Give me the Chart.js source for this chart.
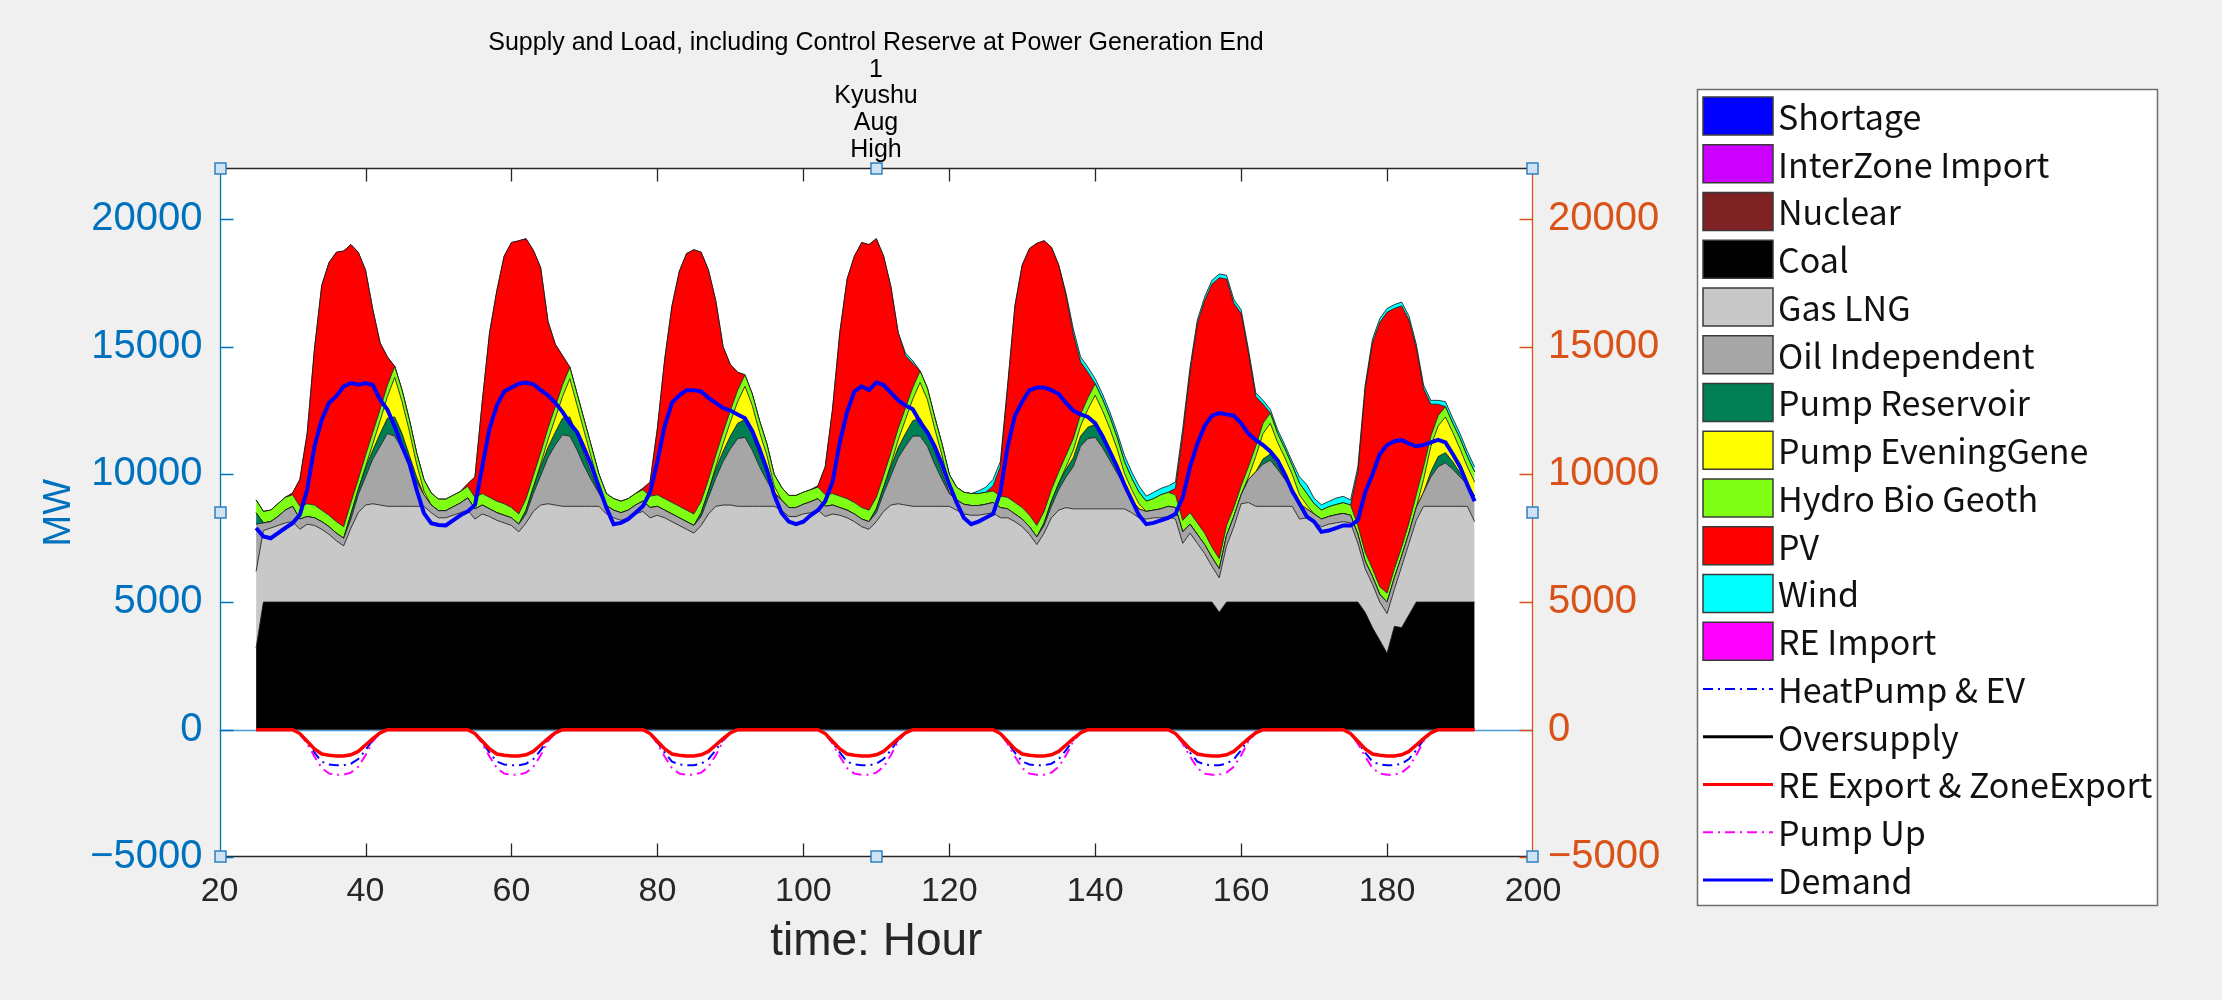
<!DOCTYPE html>
<html>
<head>
<meta charset="utf-8">
<title>Supply and Load - Kyushu Aug High</title>
<script src="https://cdn.jsdelivr.net/npm/chart.js@4.4.1/dist/chart.umd.min.js"></script>
<style>
  html, body { margin: 0; padding: 0; background: #f0f0f0; }
  #wrap { width: 2222px; height: 1000px; }
</style>
</head>
<body>
<div id="wrap"><canvas id="chart" width="2222" height="1000"></canvas></div>
<script>
// ── DATA (MW, hourly, hour 25 … 192) ─────────────────────
const hours = Array.from({length: 168}, (_, i) => 25 + i);

const titleLines = ['Supply and Load, including Control Reserve at Power Generation End', '1', 'Kyushu', 'Aug', 'High'];
const xTicks = [20, 40, 60, 80, 100, 120, 140, 160, 180, 200];
const yTicks = [-5000, 0, 5000, 10000, 15000, 20000];

// series with no output in this run
const shortage = [];
const interZoneImport = [];
const nuclear = [];
const reImport = [];
const oversupply = [];

const coal = [
  3200,5000,5000,5000,5000,5000,5000,5000,5000,5000,5000,5000,5000,5000,5000,5000,5000,5000,5000,5000,5000,5000,5000,5000,
  5000,5000,5000,5000,5000,5000,5000,5000,5000,5000,5000,5000,5000,5000,5000,5000,5000,5000,5000,5000,5000,5000,5000,5000,
  5000,5000,5000,5000,5000,5000,5000,5000,5000,5000,5000,5000,5000,5000,5000,5000,5000,5000,5000,5000,5000,5000,5000,5000,
  5000,5000,5000,5000,5000,5000,5000,5000,5000,5000,5000,5000,5000,5000,5000,5000,5000,5000,5000,5000,5000,5000,5000,5000,
  5000,5000,5000,5000,5000,5000,5000,5000,5000,5000,5000,5000,5000,5000,5000,5000,5000,5000,5000,5000,5000,5000,5000,5000,
  5000,5000,5000,5000,5000,5000,5000,5000,5000,5000,5000,5000,4600,5000,5000,5000,5000,5000,5000,5000,5000,5000,5000,5000,
  5000,5000,5000,5000,5000,5000,5000,5000,4600,4000,3500,3000,4050,4000,4500,5000,5000,5000,5000,5000,5000,5000,5000,5000
];
const gasLng = [
  3000,2800,2900,3000,3100,3150,2850,3050,3000,2850,2650,2400,2200,2900,3500,3800,3850,3800,3750,3750,3750,3750,3750,3750,
  3500,3300,3300,3400,3500,3600,3250,3450,3350,3200,3100,3000,2750,3100,3550,3800,3850,3800,3750,3750,3750,3750,3750,3750,
  3450,3300,3200,3300,3450,3550,3300,3400,3300,3150,3000,2850,2700,3000,3450,3750,3800,3800,3750,3750,3750,3750,3750,3750,
  3600,3350,3350,3450,3500,3600,3350,3450,3400,3300,3150,2950,2850,3150,3550,3800,3850,3800,3750,3750,3750,3750,3750,3750,
  3600,3450,3400,3400,3450,3500,3300,3300,3150,2950,2650,2250,2700,3300,3600,3700,3650,3650,3650,3650,3650,3650,3650,3650,
  3500,3300,3250,3300,3300,3350,3250,2300,2700,2300,1900,1400,1350,2200,2950,3850,3900,3750,3750,3750,3750,3750,3750,3250,
  3300,3150,2950,3050,3100,3150,3100,2300,1700,1700,1500,1550,1450,2400,2800,3200,3750,3750,3750,3750,3750,3750,3750,3150
];
const oilIndependent = [
  1850,300,250,350,500,600,400,300,300,300,300,300,300,350,700,1100,1750,2300,2850,2750,2250,1550,950,450,
  300,280,280,330,380,480,400,350,300,300,300,300,300,350,700,1150,1800,2350,2800,2750,2200,1550,1000,500,
  330,300,300,300,350,400,400,350,300,300,300,300,300,350,650,1100,1700,2200,2650,2700,2200,1550,1000,500,
  400,350,350,380,430,450,400,350,300,300,300,300,300,350,700,1150,1800,2300,2750,2750,2350,1650,1050,500,
  400,380,380,380,380,400,400,350,300,300,300,300,300,450,800,1200,1650,2450,2750,2800,2400,1900,1400,900,
  500,350,300,300,350,400,450,450,350,350,350,350,350,400,400,350,900,1350,1650,1800,1450,1050,650,600,
  350,300,300,300,320,320,300,350,300,300,300,450,450,400,400,500,550,1150,1550,1700,1450,1150,850,1000
];
const pumpReservoir = [
  450,0,0,0,0,0,0,0,0,0,0,0,0,200,200,350,350,500,600,750,600,450,200,0,
  0,0,0,0,0,0,0,0,0,0,0,0,0,150,250,350,400,500,650,750,600,450,250,50,
  0,0,0,0,0,0,0,0,0,0,0,0,0,150,250,350,400,500,600,700,600,450,300,50,
  0,0,0,0,0,0,0,0,0,0,0,0,0,150,250,350,400,500,600,700,600,500,300,50,
  0,0,0,0,0,0,0,0,0,0,0,0,100,200,250,300,350,400,450,500,450,400,300,150,
  0,0,0,0,0,0,0,0,0,0,0,0,0,0,0,0,0,0,200,250,150,50,0,0,
  0,0,0,0,0,0,0,0,0,0,0,0,0,0,0,0,0,200,400,400,300,150,50,0
];
const pumpEveningGene = [
  0,0,0,0,0,0,0,0,0,0,0,0,0,0,0,50,250,500,850,1550,1250,950,500,150,
  0,0,0,0,0,0,0,0,0,0,0,0,0,0,0,100,300,550,850,1500,1150,900,600,250,
  0,0,0,0,0,0,0,0,0,0,0,0,0,0,0,100,300,550,850,1300,1150,900,700,250,
  0,0,0,0,0,0,0,0,0,0,0,0,0,0,0,100,300,550,850,1400,1230,900,650,250,
  0,0,0,0,0,0,0,0,0,0,0,0,0,0,0,100,300,400,700,1150,1000,850,650,350,
  400,200,0,0,0,0,0,0,0,0,0,0,0,0,0,0,100,600,1000,1200,900,800,600,350,
  150,0,0,0,0,0,0,0,0,0,0,0,0,0,0,0,500,1000,1200,1400,1150,950,650,550
];
const hydroBioGeoth = [
  500,450,450,500,500,450,500,500,500,450,450,450,450,450,400,450,450,450,450,430,450,450,450,450,
  470,450,450,450,450,450,450,450,450,450,450,400,400,450,450,450,450,450,450,450,450,450,450,450,
  470,450,450,450,450,450,450,450,450,450,450,450,450,450,450,450,450,450,450,450,450,450,450,450,
  500,475,475,470,470,450,450,450,450,450,450,450,450,450,450,450,450,450,450,450,450,450,450,450,
  500,470,470,470,470,450,450,450,450,450,450,450,450,450,450,450,450,450,450,450,450,450,450,450,
  450,450,400,450,550,550,500,450,450,450,450,400,400,400,350,350,400,400,400,400,350,350,350,450,
  450,400,350,380,400,420,400,350,350,300,300,350,350,350,400,500,500,400,400,400,350,400,400,400
];
const pv = [
  0,0,0,0,0,70,1050,2750,6100,8800,9900,10550,10800,10100,8900,7250,4800,2600,1100,0,0,0,0,0,
  0,0,0,0,0,100,800,3600,6450,8250,9700,10380,10700,10180,8830,7250,4200,2450,1150,0,0,0,0,0,
  0,0,0,0,0,50,550,2600,5450,7700,9200,10050,10350,9750,8200,6050,3350,1800,700,0,0,0,0,0,
  0,0,0,0,0,50,1100,3300,6400,8600,9650,10380,10400,10130,8600,6500,3750,2050,950,0,0,0,0,0,
  0,0,0,0,0,200,1150,4300,7700,9500,10450,11050,10600,9500,8100,6250,4100,2050,1000,0,0,0,0,0,
  0,0,0,0,0,0,250,3350,5500,7800,9100,10300,11000,9650,8000,6750,4450,1950,750,0,0,0,0,0,
  0,0,0,0,0,0,0,2100,6400,8850,10350,11000,10200,9450,7950,5750,3050,1250,450,0,0,0,0,0
];
const wind = [
  0,0,0,0,0,0,0,0,0,0,0,0,0,0,0,0,0,0,0,0,0,0,0,0,
  0,0,0,0,0,0,0,0,0,0,0,0,0,0,0,0,0,0,0,0,0,0,0,0,
  0,0,0,0,0,0,0,0,0,0,0,0,0,0,0,0,0,0,0,0,0,0,0,0,
  0,0,0,0,0,0,0,0,0,0,0,0,0,0,0,0,0,100,100,0,0,0,0,0,
  0,0,0,100,200,250,200,100,0,0,0,0,0,0,0,100,200,200,200,200,200,200,200,250,
  250,250,200,250,250,250,250,250,200,150,150,150,150,150,150,150,150,150,150,150,150,150,150,250,
  350,220,210,210,250,250,200,200,150,150,150,150,150,150,150,150,150,150,150,200,200,200,200,200
];

// loads drawn below zero
const heatPumpEv = [
  0,0,0,0,0,0,-150,-500,-900,-1250,-1360,-1390,-1390,-1330,-1150,-800,-400,-120,0,0,0,0,0,0,
  0,0,0,0,0,0,-150,-500,-900,-1250,-1360,-1390,-1390,-1330,-1150,-800,-400,-120,0,0,0,0,0,0,
  0,0,0,0,0,0,-150,-500,-900,-1250,-1360,-1390,-1390,-1330,-1150,-800,-400,-120,0,0,0,0,0,0,
  0,0,0,0,0,0,-150,-500,-900,-1250,-1360,-1390,-1390,-1330,-1150,-800,-400,-120,0,0,0,0,0,0,
  0,0,0,0,0,0,-150,-500,-900,-1250,-1360,-1390,-1390,-1330,-1150,-800,-400,-120,0,0,0,0,0,0,
  0,0,0,0,0,0,-150,-500,-900,-1250,-1360,-1390,-1390,-1330,-1150,-800,-400,-120,0,0,0,0,0,0,
  0,0,0,0,0,0,-150,-500,-900,-1250,-1360,-1390,-1390,-1330,-1150,-800,-400,-120,0,0,0,0,0,0
];
const reExport = [
  0,0,0,0,0,0,-150,-450,-750,-950,-1000,-1030,-1030,-980,-850,-600,-350,-120,0,0,0,0,0,0,
  0,0,0,0,0,0,-150,-450,-750,-950,-1000,-1030,-1030,-980,-850,-600,-350,-120,0,0,0,0,0,0,
  0,0,0,0,0,0,-150,-450,-750,-950,-1000,-1030,-1030,-980,-850,-600,-350,-120,0,0,0,0,0,0,
  0,0,0,0,0,0,-150,-450,-750,-950,-1000,-1030,-1030,-980,-850,-600,-350,-120,0,0,0,0,0,0,
  0,0,0,0,0,0,-150,-450,-750,-950,-1000,-1030,-1030,-980,-850,-600,-350,-120,0,0,0,0,0,0,
  0,0,0,0,0,0,-150,-450,-750,-950,-1000,-1030,-1030,-980,-850,-600,-350,-120,0,0,0,0,0,0,
  0,0,0,0,0,0,-150,-450,-750,-950,-1000,-1030,-1030,-980,-850,-600,-350,-120,0,0,0,0,0,0
];
const pumpUp = [
  0,0,0,0,0,0,-150,-550,-1050,-1500,-1720,-1760,-1760,-1680,-1450,-1000,-450,-120,0,0,0,0,0,0,
  0,0,0,0,0,0,-150,-550,-1050,-1500,-1720,-1760,-1760,-1680,-1450,-1000,-450,-120,0,0,0,0,0,0,
  0,0,0,0,0,0,-150,-550,-1050,-1500,-1720,-1760,-1760,-1680,-1450,-1000,-450,-120,0,0,0,0,0,0,
  0,0,0,0,0,0,-150,-550,-1050,-1500,-1720,-1760,-1760,-1680,-1450,-1000,-450,-120,0,0,0,0,0,0,
  0,0,0,0,0,0,-150,-550,-1050,-1500,-1720,-1760,-1760,-1680,-1450,-1000,-450,-120,0,0,0,0,0,0,
  0,0,0,0,0,0,-150,-550,-1050,-1500,-1720,-1760,-1760,-1680,-1450,-1000,-450,-120,0,0,0,0,0,0,
  0,0,0,0,0,0,-150,-550,-1050,-1500,-1720,-1760,-1760,-1680,-1450,-1000,-450,-120,0,0,0,0,0,0
];
const demand = [
  7900,7570,7500,7700,7900,8090,8420,9400,11100,12140,12800,13060,13450,13580,13510,13580,13500,12925,12530,11880,11100,10440,9400,8480,
  8090,8020,8000,8200,8400,8550,8800,10300,11800,12700,13250,13400,13550,13600,13530,13300,13100,12800,12450,12000,11650,11000,10300,9500,
  8700,8050,8100,8250,8500,8750,9300,10500,11900,12800,13100,13300,13300,13250,13000,12800,12600,12500,12350,12200,11700,11000,10200,9200,
  8500,8150,8050,8150,8400,8600,8950,9700,11250,12450,13250,13450,13300,13600,13500,13200,12900,12700,12550,12050,11650,11100,10400,9600,
  8900,8300,8050,8150,8300,8450,9300,11100,12300,12850,13300,13400,13400,13300,13150,12800,12500,12350,12250,12000,11500,10900,10300,9600,
  9000,8400,8050,8100,8200,8300,8450,9100,10300,11200,11900,12300,12400,12350,12300,12000,11600,11350,11150,10900,10550,10000,9350,8850,
  8350,8150,7750,7800,7900,8000,8000,8200,9300,10000,10800,11150,11300,11350,11200,11100,11150,11250,11350,11250,10800,10300,9600,8950
];

// ── STYLE ───────────────────────────────────────────────
const FONT = '"Liberation Sans", Arial, sans-serif';
const LEGEND_FONT = '"Noto Sans CJK JP", "Liberation Sans", sans-serif';
const AX_DARK = '#262626';
const AX_LEFT = '#0072bd';
const AX_RIGHT = '#d95319';
const EDGE = 'rgba(25,25,25,0.85)';
const DASHDOT = [10, 5, 2, 5];
const tickText = v => (v < 0 ? '\u2212' + Math.abs(v) : String(v));

// stacked supply, bottom to top
const areaDefs = [
  ['Shortage', shortage, '#0000ff'],
  ['InterZone Import', interZoneImport, '#cc00ff'],
  ['Nuclear', nuclear, '#7e2224'],
  ['Coal', coal, '#000000'],
  ['Gas LNG', gasLng, '#c8c8c8'],
  ['Oil Independent', oilIndependent, '#a6a6a6'],
  ['Pump Reservoir', pumpReservoir, '#007f55'],
  ['Pump EveningGene', pumpEveningGene, '#ffff00'],
  ['Hydro Bio Geoth', hydroBioGeoth, '#7fff14'],
  ['PV', pv, '#ff0000'],
  ['Wind', wind, '#00ffff'],
  ['RE Import', reImport, '#ff00ff'],
];
const areaSets = areaDefs.map(([label, data, color]) => ({
  kind: 'area', label, data,
  backgroundColor: color, borderColor: EDGE, borderWidth: 1,
  fill: label === 'Coal' ? 'origin' : (data.length ? '-1' : false),
  yAxisID: 'y', order: 10, pointRadius: 0, tension: 0
}));

const lineSets = [
  {label: 'HeatPump & EV', data: heatPumpEv, borderColor: '#0000ff', borderWidth: 2, borderDash: DASHDOT, order: 3},
  {label: 'Oversupply', data: oversupply, borderColor: '#000000', borderWidth: 3, order: 4},
  {label: 'RE Export & ZoneExport', data: reExport, borderColor: '#ff0000', borderWidth: 3.5, order: 1},
  {label: 'Pump Up', data: pumpUp, borderColor: '#ff00ff', borderWidth: 2, borderDash: DASHDOT, order: 2},
  {label: 'Demand', data: demand, borderColor: '#0000ff', borderWidth: 4, order: 0},
].map(d => ({...d, kind: 'line', fill: false, yAxisID: 'y2', pointRadius: 0, tension: 0}));

// ── LEGEND BOX ──────────────────────────────────────────
const LEG = {x: 1697, y: 89, w: 460, h: 816, row0: 116, gap: 47.75, sw: 70, sh: 38};

function drawLegend(chart) {
  const ctx = chart.ctx;
  ctx.save();
  ctx.fillStyle = '#ffffff';
  ctx.fillRect(LEG.x, LEG.y, LEG.w, LEG.h);
  ctx.strokeStyle = '#6e6e6e';
  ctx.lineWidth = 1.5;
  ctx.strokeRect(LEG.x + 0.5, LEG.y + 0.5, LEG.w, LEG.h);
  ctx.font = '34px ' + LEGEND_FONT;
  ctx.textBaseline = 'middle';
  ctx.textAlign = 'left';
  chart.data.datasets.forEach((ds, i) => {
    const cy = LEG.row0 + i * LEG.gap;
    const sx = LEG.x + 6;
    if (ds.kind === 'area') {
      ctx.fillStyle = ds.backgroundColor;
      ctx.fillRect(sx, cy - LEG.sh / 2, LEG.sw, LEG.sh);
      ctx.strokeStyle = '#3a3a3a';
      ctx.lineWidth = 1.5;
      ctx.setLineDash([]);
      ctx.strokeRect(sx, cy - LEG.sh / 2, LEG.sw, LEG.sh);
    } else {
      ctx.strokeStyle = ds.borderColor;
      ctx.lineWidth = Math.min(ds.borderWidth, 3);
      ctx.setLineDash(ds.borderDash || []);
      ctx.beginPath();
      ctx.moveTo(sx, cy);
      ctx.lineTo(sx + LEG.sw, cy);
      ctx.stroke();
      ctx.setLineDash([]);
    }
    ctx.fillStyle = '#111111';
    ctx.fillText(ds.label, LEG.x + 81, cy + 1);
  });
  ctx.restore();
}

// ── AXES FRAME, TICKS, HANDLES ──────────────────────────
const frame = {
  id: 'frame',
  beforeDraw(chart) {
    const {ctx, chartArea: a} = chart;
    ctx.save();
    ctx.fillStyle = '#f0f0f0';
    ctx.fillRect(0, 0, chart.width, chart.height);
    ctx.fillStyle = '#ffffff';
    ctx.fillRect(a.left, a.top, a.right - a.left, a.bottom - a.top);
    ctx.restore();
  },
  beforeDatasetsDraw(chart) {
    const {ctx, chartArea: a, scales} = chart;
    const y0 = Math.round(scales.y.getPixelForValue(0)) + 0.5;
    ctx.save();
    ctx.strokeStyle = '#4a9ad6';
    ctx.lineWidth = 1.5;
    ctx.beginPath();
    ctx.moveTo(a.left, y0);
    ctx.lineTo(a.right, y0);
    ctx.stroke();
    ctx.restore();
  },
  afterDraw(chart) {
    const {ctx, chartArea: a, scales} = chart;
    const L = Math.round(a.left) + 0.5, R = Math.round(a.right) - 0.5;
    const T = Math.round(a.top) + 0.5, B = Math.round(a.bottom) - 0.5;
    const tl = 13;
    ctx.save();
    ctx.lineWidth = 1.3;

    ctx.strokeStyle = AX_DARK;
    ctx.beginPath();
    ctx.moveTo(L, T); ctx.lineTo(R, T);
    ctx.moveTo(L, B); ctx.lineTo(R, B);
    scales.x.ticks.forEach(t => {
      const px = Math.round(scales.x.getPixelForValue(t.value)) + 0.5;
      if (px <= L + 1 || px >= R - 1) return;
      ctx.moveTo(px, B); ctx.lineTo(px, B - tl);
      ctx.moveTo(px, T); ctx.lineTo(px, T + tl);
    });
    ctx.stroke();

    ctx.strokeStyle = AX_LEFT;
    ctx.beginPath();
    ctx.moveTo(L, T); ctx.lineTo(L, B);
    scales.y.ticks.forEach(t => {
      const py = Math.round(scales.y.getPixelForValue(t.value)) + 0.5;
      ctx.moveTo(L, py); ctx.lineTo(L + tl, py);
    });
    ctx.stroke();

    ctx.strokeStyle = AX_RIGHT;
    ctx.beginPath();
    ctx.moveTo(R, T); ctx.lineTo(R, B);
    scales.y2.ticks.forEach(t => {
      const py = Math.round(scales.y2.getPixelForValue(t.value)) + 0.5;
      ctx.moveTo(R, py); ctx.lineTo(R - tl, py);
    });
    ctx.stroke();

    // selection handles round the axes
    const mx = (L + R) / 2, my = (T + B) / 2;
    [[L, T], [mx, T], [R, T], [L, my], [R, my], [L, B], [mx, B], [R, B]].forEach(([hx, hy]) => {
      ctx.fillStyle = '#cfe2f4';
      ctx.strokeStyle = '#2f7fc1';
      ctx.lineWidth = 1.5;
      ctx.fillRect(hx - 5.5, hy - 5.5, 11, 11);
      ctx.strokeRect(hx - 5.5, hy - 5.5, 11, 11);
    });
    ctx.restore();

    drawLegend(chart);
  }
};

// ── CHART ───────────────────────────────────────────────
new Chart(document.getElementById('chart'), {
  type: 'line',
  data: {labels: hours, datasets: [...areaSets, ...lineSets]},
  plugins: [frame],
  options: {
    responsive: false,
    animation: false,
    devicePixelRatio: 1,
    layout: {padding: {left: 0, right: 470, top: 0, bottom: 0}},
    elements: {line: {tension: 0}, point: {radius: 0}},
    plugins: {
      legend: {display: false},
      tooltip: {enabled: false},
      title: {
        display: true,
        text: titleLines,
        color: '#000000',
        font: {family: FONT, size: 25, weight: 'normal', lineHeight: 1.064},
        padding: {top: 30, bottom: 5}
      }
    },
    scales: {
      x: {
        type: 'linear', position: 'bottom', min: 20, max: 200,
        afterBuildTicks: s => { s.ticks = xTicks.map(v => ({value: v})); },
        afterFit: s => { s.height = 142.6; },
        grid: {display: false, drawTicks: false},
        border: {display: false},
        ticks: {color: AX_DARK, font: {family: FONT, size: 34}, padding: 14, maxRotation: 0, callback: tickText},
        title: {display: true, text: 'time: Hour', color: AX_DARK,
                font: {family: FONT, size: 46, lineHeight: 1.2}, padding: {top: 0, bottom: 30}}
      },
      y: {
        position: 'left', stacked: true, min: -5000, max: 22000,
        afterBuildTicks: s => { s.ticks = yTicks.map(v => ({value: v})); },
        afterFit: s => { s.width = 219.6; },
        grid: {display: false, drawTicks: false},
        border: {display: false},
        ticks: {color: AX_LEFT, font: {family: FONT, size: 40}, padding: 17, callback: tickText},
        title: {display: true, text: 'MW', color: AX_LEFT,
                font: {family: FONT, size: 38, lineHeight: 1.2}, padding: {top: 37, bottom: 0}}
      },
      y2: {
        position: 'right', stacked: false, min: -5000, max: 22000,
        afterBuildTicks: s => { s.ticks = yTicks.map(v => ({value: v})); },
        afterFit: s => { s.width = 219; },
        grid: {display: false, drawTicks: false},
        border: {display: false},
        ticks: {color: AX_RIGHT, font: {family: FONT, size: 40}, padding: 15, callback: tickText}
      }
    }
  }
});
</script>
</body>
</html>
